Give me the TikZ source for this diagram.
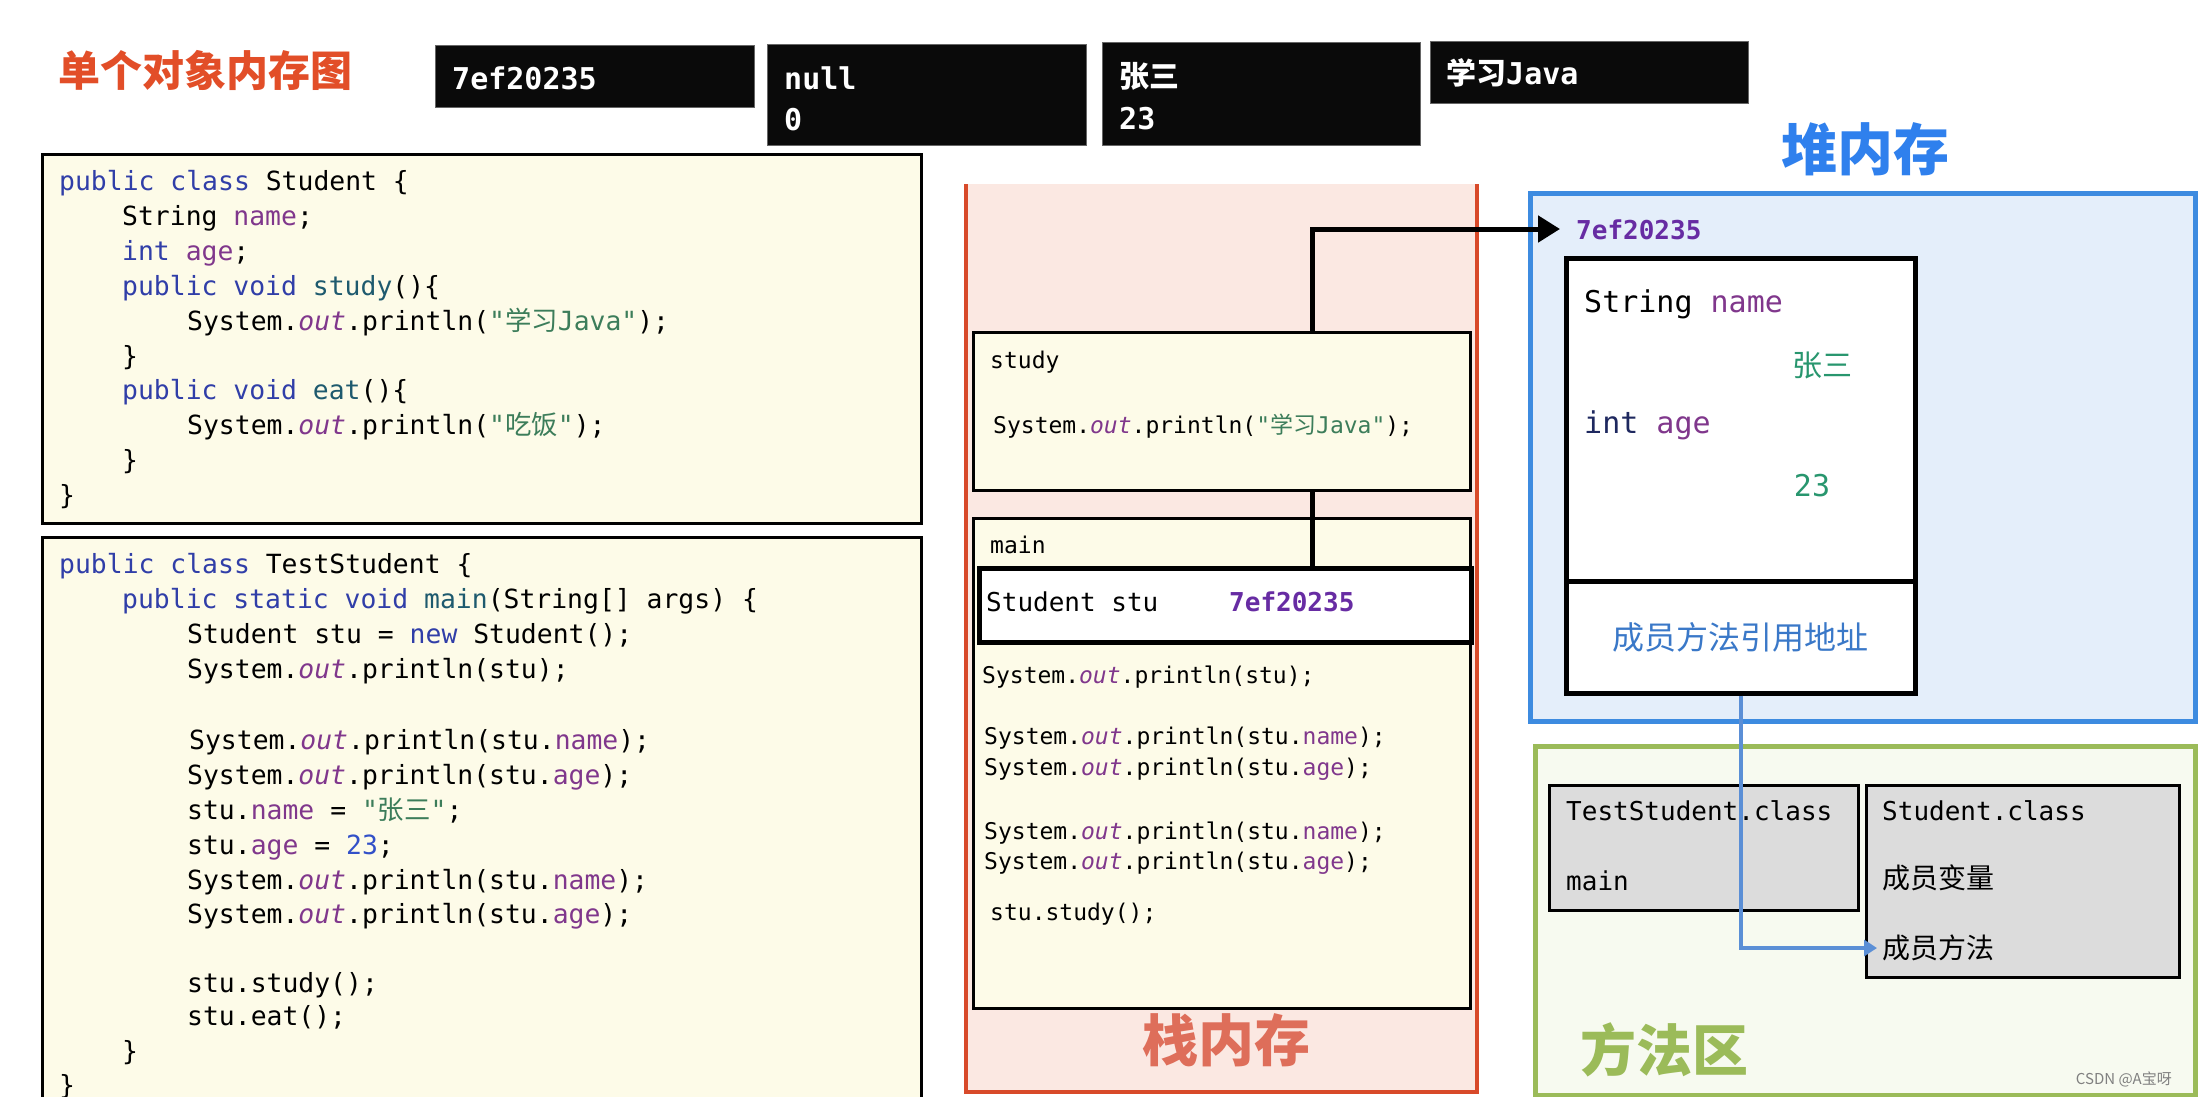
\documentclass[tikz,border=0pt]{standalone}
\usepackage{fontspec}
\usetikzlibrary{arrows.meta}
\setmainfont{DejaVu Sans}
\newfontfamily\jmono{DejaVu Sans Mono}
\newfontfamily\cjk{Noto Sans CJK SC}
\definecolor{kwc}{RGB}{48,62,168}
\definecolor{fldc}{RGB}{128,55,140}
\definecolor{mthc}{RGB}{30,90,110}
\definecolor{strc}{RGB}{60,125,90}
\definecolor{numc}{RGB}{50,80,200}
\definecolor{navyc}{RGB}{30,40,95}
\definecolor{valc}{RGB}{40,150,110}
\definecolor{codebg}{RGB}{253,251,232}
\definecolor{stackbg}{RGB}{251,232,226}
\definecolor{stackln}{RGB}{216,74,42}
\definecolor{stacktx}{RGB}{222,110,90}
\definecolor{titlec}{RGB}{226,78,40}
\definecolor{heapln}{RGB}{61,139,224}
\definecolor{heapbg}{RGB}{228,238,250}
\definecolor{heaptx}{RGB}{47,128,237}
\definecolor{methln}{RGB}{155,187,89}
\definecolor{methbg}{RGB}{247,250,240}
\definecolor{greyc}{RGB}{220,220,220}
\definecolor{refblue}{RGB}{58,120,200}
\definecolor{linkblue}{RGB}{91,143,214}
\newcommand\jkw[1]{\textcolor{kwc}{#1}}
\newcommand\jfld[1]{\textcolor{fldc}{#1}}
\newcommand\jmth[1]{\textcolor{mthc}{#1}}
\newcommand\jout{\textcolor{fldc}{\itshape out}}
\newcommand\jstr[1]{\textcolor{strc}{#1}}
\newcommand\jnum[1]{\textcolor{numc}{#1}}
\newcommand\fs[1]{\fontsize{#1}{#1}\selectfont}
\tikzset{
  txt/.style={anchor=west, inner sep=0pt, text height=1em, text depth=0em, yshift=-5pt},
  code/.style={txt, font=\jmono\fs{26.4}},
  scode/.style={txt, font=\jmono\fs{23}},
  hcode/.style={txt, font=\jmono\fs{30}, yshift=-2pt},
  ccode/.style={txt, font=\jmono\fs{26}},
  blk/.style={anchor=north west, inner sep=0pt, fill=black!96, draw=black!60, line width=1pt},
  blktext/.style={txt, text=white, font=\jmono\bfseries\fs{30}, yshift=-2pt},
  codebox/.style={anchor=north west, inner sep=0pt, fill=codebg, draw=black, line width=2.5pt},
  framebox/.style={anchor=north west, inner sep=0pt, fill=codebg, draw=black, line width=2.5pt},
  classbox/.style={anchor=north west, inner sep=0pt, fill=greyc, draw=black, line width=2.5pt},
  bigcjk/.style={inner sep=0pt, font=\cjk\bfseries\fs{56}},
}
\begin{document}
\begin{tikzpicture}[x=1pt,y=-1pt]
\path[use as bounding box] (0,0) rectangle (2202,1096);
\clip (0,0) rectangle (2202,1096);
\fill[white] (0,0) rectangle (2202,1096);

% title
\node[inner sep=0pt, font=\cjk\bfseries\fs{42}, text=titlec] (title) at (205,70) {单个对象内存图};

% black value boxes
\node[blk, minimum width=319pt, minimum height=62pt] (b1) at (435,45) {};
\node[blktext] (b1t) at (452,77) {7ef20235};
\node[blk, minimum width=319pt, minimum height=101pt] (b2) at (767,44) {};
\node[blktext] (b2t) at (784,77) {null};
\node[blktext] (b2u) at (784,118) {0};
\node[blk, minimum width=318pt, minimum height=103pt] (b3) at (1102,42) {};
\node[blktext] (b3t) at (1119,75) {{\cjk\bfseries 张三}};
\node[blktext] (b3u) at (1119,117) {23};
\node[blk, minimum width=318pt, minimum height=62pt] (b4) at (1430,41) {};
\node[blktext] (b4t) at (1446,72) {{\cjk\bfseries 学习}Java};

% code box 1
\node[codebox, minimum width=879pt, minimum height=369pt] (cb1) at (41,153) {};
\node[code] (c1a) at (59,180) {\jkw{public class} Student \{};
\node[code] (c1b) at (122,215) {String \jfld{name};};
\node[code] (c1c) at (122,250) {\jkw{int} \jfld{age};};
\node[code] (c1d) at (122,285) {\jkw{public void} \jmth{study}()\{};
\node[code] (c1e) at (187,320) {System.\jout.println(\jstr{"{\cjk 学习}Java"});};
\node[code] (c1f) at (122,355) {\}};
\node[code] (c1g) at (122,389) {\jkw{public void} \jmth{eat}()\{};
\node[code] (c1h) at (187,424) {System.\jout.println(\jstr{"{\cjk 吃饭}"});};
\node[code] (c1i) at (122,459) {\}};
\node[code] (c1j) at (59,494) {\}};

% code box 2
\node[codebox, minimum width=879pt, minimum height=600pt] (cb2) at (41,536) {};
\node[code] (c2a) at (59,563) {\jkw{public class} TestStudent \{};
\node[code] (c2b) at (122,598) {\jkw{public static void} \jmth{main}(String[] args) \{};
\node[code] (c2c) at (187,633) {Student stu = \jkw{new} Student();};
\node[code] (c2d) at (187,668) {System.\jout.println(stu);};
\node[code] (c2e) at (189,739) {System.\jout.println(stu.\jfld{name});};
\node[code] (c2f) at (187,774) {System.\jout.println(stu.\jfld{age});};
\node[code] (c2g) at (187,809) {stu.\jfld{name} = \jstr{"{\cjk 张三}"};};
\node[code] (c2h) at (187,844) {stu.\jfld{age} = \jnum{23};};
\node[code] (c2i) at (187,879) {System.\jout.println(stu.\jfld{name});};
\node[code] (c2j) at (187,913) {System.\jout.println(stu.\jfld{age});};
\node[code] (c2k) at (187,982) {stu.study();};
\node[code] (c2l) at (187,1015) {stu.eat();};
\node[code] (c2m) at (122,1050) {\}};
\node[code] (c2n) at (59,1084) {\}};

% stack area
\fill[stackbg] (966,184) rectangle (1477,1092);
\draw[stackln, line width=4pt] (966,184) -- (966,1092) -- (1477,1092) -- (1477,184);
\node[bigcjk, text=stacktx] (stacklbl) at (1226,1040) {栈内存};

% main frame
\node[framebox, minimum width=497pt, minimum height=490pt] (mainf) at (972,517) {};
\node[scode] (mainl) at (990,543) {main};
\node[anchor=north west, inner sep=0pt, fill=white, draw=black, line width=4.5pt, minimum width=492pt, minimum height=74pt] (stu) at (977,566) {};
\node[ccode] (stut) at (986,601) {Student stu};
\node[ccode, font=\jmono\bfseries\fs{26}, text=fldc!80!blue] (stuv) at (1229,601) {7ef20235};
\node[scode] (m1) at (982,673) {System.\jout.println(stu);};
\node[scode] (m2) at (984,734) {System.\jout.println(stu.\jfld{name});};
\node[scode] (m3) at (984,765) {System.\jout.println(stu.\jfld{age});};
\node[scode] (m4) at (984,829) {System.\jout.println(stu.\jfld{name});};
\node[scode] (m5) at (984,859) {System.\jout.println(stu.\jfld{age});};
\node[scode] (m6) at (990,910) {stu.study();};

% heap
\node[anchor=north west, inner sep=0pt, fill=heapbg, draw=heapln, line width=5pt, minimum width=665pt, minimum height=528pt] (heap) at (1528,191) {};
\node[bigcjk, text=heaptx] (heaplbl) at (1865,149) {堆内存};
\node[txt, font=\jmono\bfseries\fs{26}, text=fldc!80!blue] (haddr) at (1576,229) {7ef20235};
\node[anchor=north west, inner sep=0pt, fill=white, draw=black, line width=4.5pt, minimum width=349pt, minimum height=323pt] (obj) at (1564,256) {};
\node[anchor=north west, inner sep=0pt, fill=white, draw=black, line width=4.5pt, minimum width=349pt, minimum height=112pt, font=\cjk\fs{32}, text=refblue] (objm) at (1564,579) {成员方法引用地址};
\node[hcode] (hname) at (1584,300) {String \jfld{name}};
\node[inner sep=0pt, font=\cjk\fs{30}, text=valc] (hnamev) at (1822,365) {张三};
\node[hcode] (hage) at (1584,421) {\textcolor{navyc}{int} \jfld{age}};
\node[inner sep=0pt, font=\jmono\fs{30}, text=valc] (hagev) at (1812,486) {23};

% study frame + reference connector
\coordinate (bend) at (1312,229);
\draw[black, line width=5pt, shorten >=16pt, -{Triangle[length=22pt,width=26pt]}] (stu.north -| bend) |- (bend -| haddr.west);
\node[framebox, minimum width=497pt, minimum height=158pt] (studyf) at (972,331) {};
\node[scode] (studyl) at (990,358) {study};
\node[scode] (studyc) at (993,423) {System.\jout.println(\jstr{"{\cjk 学习}Java"});};

% method area
\node[anchor=north west, inner sep=0pt, fill=methbg, draw=methln, line width=5pt, minimum width=660pt, minimum height=349pt] (meth) at (1533,744) {};
\node[bigcjk, text=methln] (methlbl) at (1664,1050) {方法区};
\node[classbox, minimum width=309pt, minimum height=125pt] (tsc) at (1548,784) {};
\node[ccode] (tsct) at (1566,810) {TestStudent.class};
\node[ccode] (tscm) at (1566,880) {main};
\node[classbox, minimum width=313pt, minimum height=192pt] (sc) at (1865,784) {};
\node[ccode] (sct) at (1882,810) {Student.class};
\node[inner sep=0pt, anchor=west, font=\cjk\fs{28}] (scv) at (1882,878) {成员变量};
\node[inner sep=0pt, anchor=west, font=\cjk\fs{28}] (scm) at (1882,948) {成员方法};

\draw[linkblue, line width=3.5pt, shorten >=5pt, -{Triangle[length=13pt,width=16pt]}] (objm.south) |- (scm.west);

\node[inner sep=0pt, anchor=east, font=\cjk\fs{15}, text=black!50] (wm) at (2172,1079) {CSDN @A宝呀};
\end{tikzpicture}
\end{document}
